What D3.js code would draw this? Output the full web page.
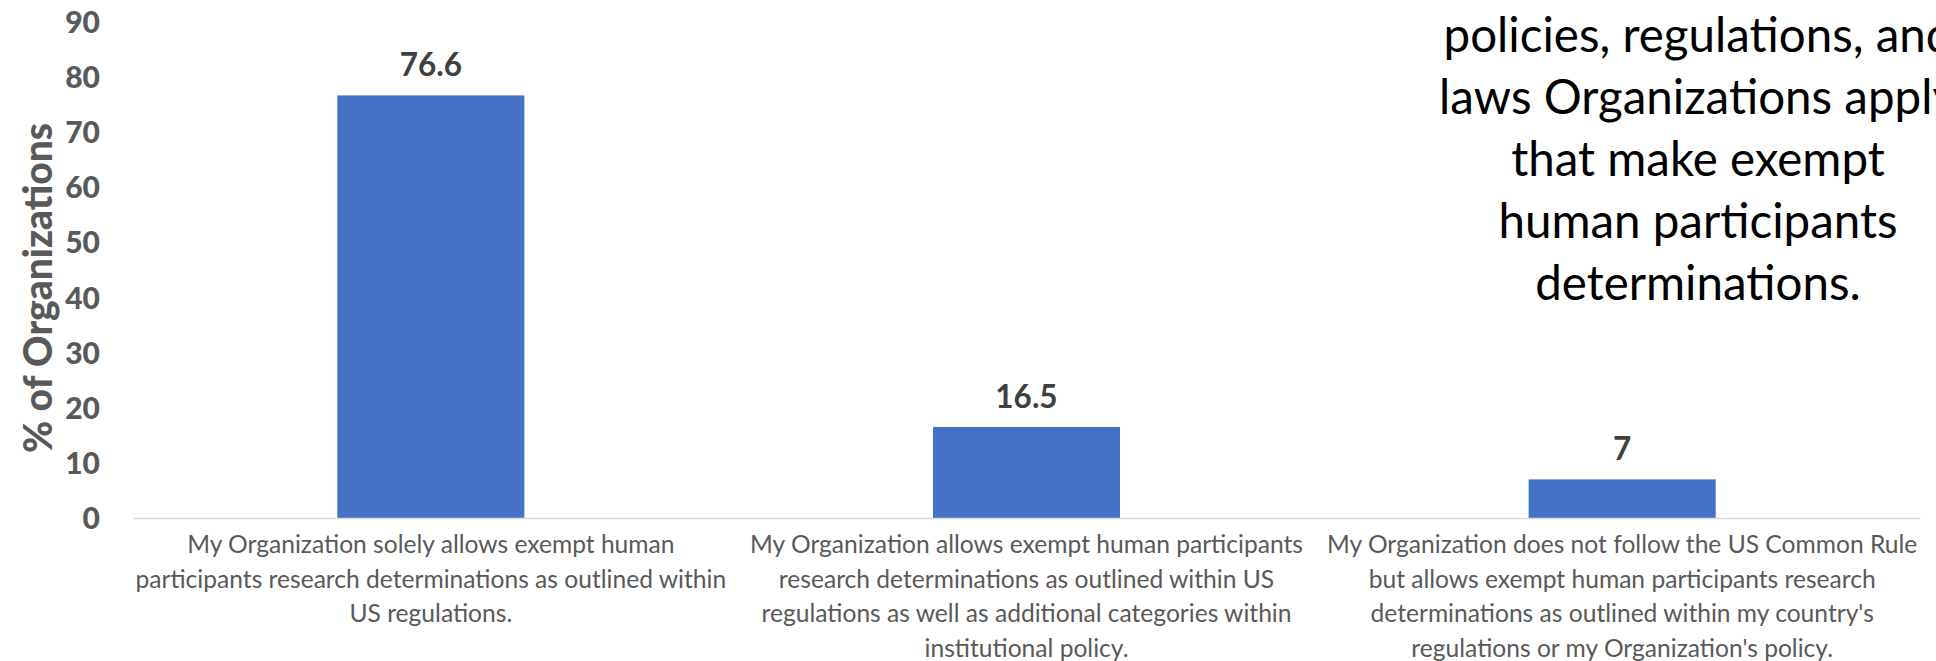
<!DOCTYPE html>
<html><head><meta charset="utf-8">
<script src="https://cdn.jsdelivr.net/npm/d3@7"></script>
<style>html,body{margin:0;padding:0;background:#fff;overflow:hidden}</style>
</head><body>
<svg id="chart" width="1936" height="661"></svg>
<script>
const categories = [
  ["My Organization solely allows exempt human", "participants research determinations as outlined within", "US regulations."],
  ["My Organization allows exempt human participants", "research determinations as outlined within US", "regulations as well as additional categories within", "institutional policy."],
  ["My Organization does not follow the US Common Rule", "but allows exempt human participants research", "determinations as outlined within my country's", "regulations or my Organization's policy."]
];
const values = [76.6, 16.5, 7];
const valueLabels = ["76.6", "16.5", "7"];
const yTicks = [0, 10, 20, 30, 40, 50, 60, 70, 80, 90];
const yTitle = "% of Organizations";
const titleLines = ["policies, regulations, and", "laws Organizations apply", "that make exempt", "human participants", "determinations."];

const svg = d3.select("#chart");
const W = 1936, H = 661;
svg.append("rect").attr("width", W).attr("height", H).attr("fill", "#fff");

const plotLeft = 133, plotRight = 1920, plotTop = 21.5, plotBottom = 518;
const x = d3.scaleBand().domain(d3.range(categories.length)).range([plotLeft, plotRight]).paddingInner(0.686).paddingOuter(0.343);
const y = d3.scaleLinear().domain([0, 90]).range([plotBottom, plotTop]);

const font = "Lato, 'Open Sans', sans-serif";

// y axis labels
const yAxis = d3.axisLeft(y).tickValues(yTicks).tickSize(0).tickPadding(0);
const gy = svg.append("g").attr("transform", `translate(100,0)`).call(yAxis);
gy.select(".domain").remove();
gy.selectAll("text").attr("font-family", font).attr("font-weight", 900).attr("font-size", 30).attr("fill", "#595959").attr("dy", "0.36em");

// y title
svg.append("text").attr("transform", `translate(52,288) rotate(-90)`)
  .attr("text-anchor", "middle").attr("font-family", font).attr("font-weight", 900)
  .attr("font-size", 39).attr("fill", "#595959").text(yTitle);

// bars
svg.append("g").selectAll("rect").data(values).join("rect")
  .attr("x", (d, i) => x(i)).attr("width", x.bandwidth())
  .attr("y", d => y(d)).attr("height", d => y(0) - y(d))
  .attr("fill", "#4472C4");

// x axis line
const xAxis = d3.axisBottom(x).tickSize(0).tickFormat("");
const gx = svg.append("g").attr("transform", `translate(0,${plotBottom})`).call(xAxis);
gx.select(".domain").attr("stroke", "#D9D9D9").attr("stroke-width", 1.5);

// value labels
svg.append("g").selectAll("text").data(values).join("text")
  .attr("x", (d, i) => x(i) + x.bandwidth() / 2).attr("y", d => y(d) - 19)
  .attr("text-anchor", "middle").attr("font-family", font).attr("font-weight", 700)
  .attr("font-size", 31.5).attr("fill", "#404040").text((d, i) => valueLabels[i]);

// category labels
const cat = svg.append("g").selectAll("text").data(categories).join("text")
  .attr("text-anchor", "middle").attr("font-family", font).attr("font-size", 24.6).attr("fill", "#595959");
cat.each(function(lines, i) {
  d3.select(this).selectAll("tspan").data(lines).join("tspan")
    .attr("x", x(i) + x.bandwidth() / 2).attr("y", (l, j) => 553 + j * 34.6).text(l => l);
});

// title
svg.append("g").selectAll("text").data(titleLines).join("text")
  .attr("x", 1698).attr("y", (d, j) => 52 + j * 62)
  .attr("text-anchor", "middle").attr("font-family", font).attr("font-size", 47.5).attr("fill", "#000").text(d => d);
</script>
</body></html>
